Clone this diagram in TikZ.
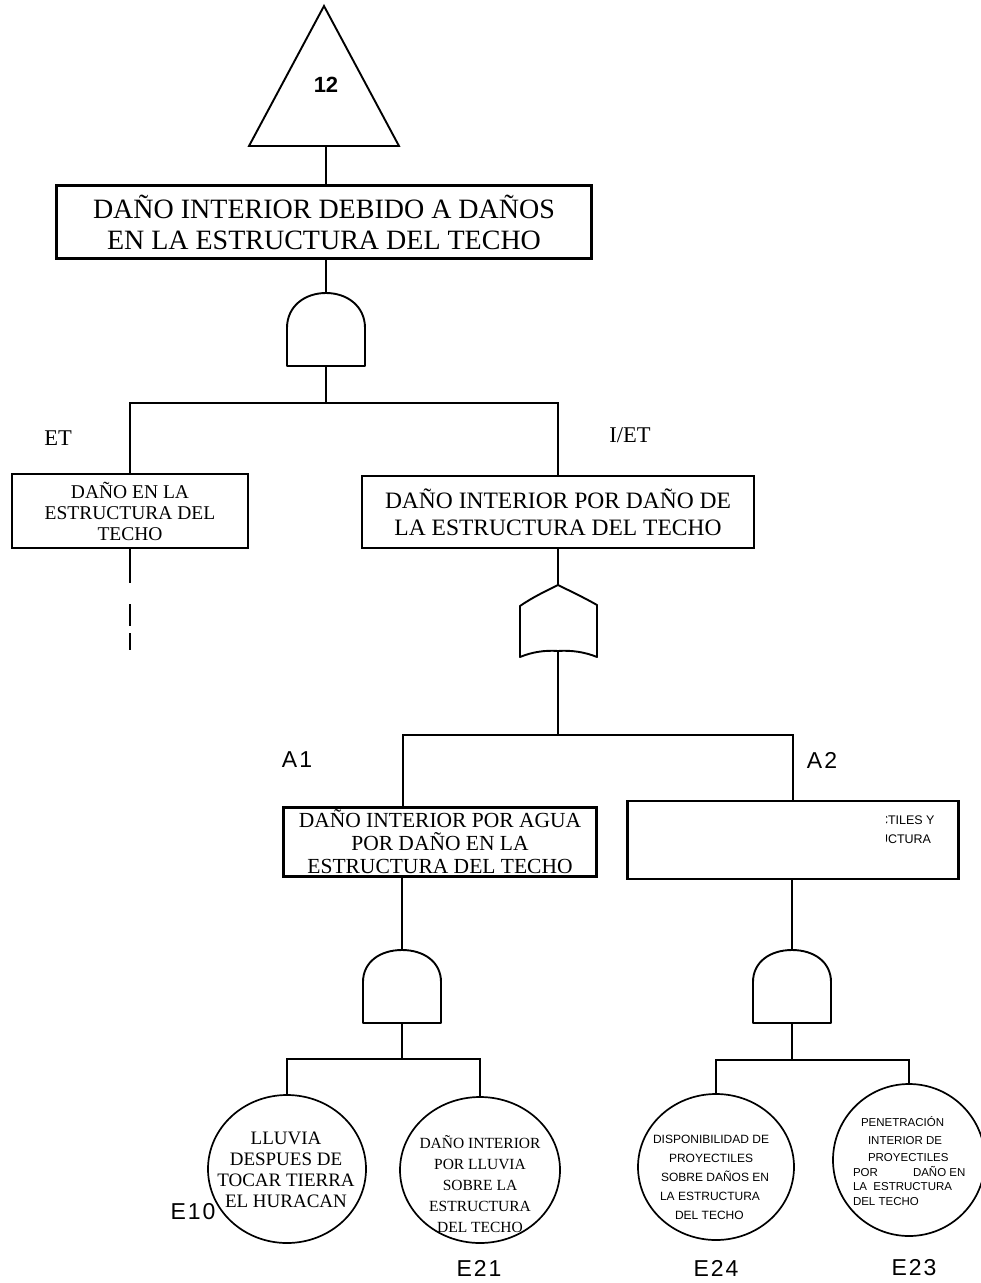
\documentclass[tikz,border=0pt]{standalone}
\usepackage{fontspec}
\usetikzlibrary{shapes.geometric}
\setmainfont{Liberation Serif}
\setsansfont{Liberation Sans}
\newcommand{\fsz}[2]{\fontsize{#1}{#2}\selectfont}
\begin{document}
\begin{tikzpicture}[x=1pt,y=-1pt,line width=2pt,
  box/.style={draw,line width=2.4pt,rectangle,inner sep=0pt,align=center},
  basic/.style={draw,ellipse,line width=1.7pt,inner sep=0pt},
  gate/.style={draw,line width=1.9pt,line join=round},
  wire/.style={line width=2.2pt},
  sflbl/.style={font=\sffamily\fsz{23}{25},inner sep=0pt},
  rmlbl/.style={font=\fsz{22.5}{25},inner sep=0pt},
  evtxt/.style={inner sep=0pt,align=center}]
\useasboundingbox (0,0) rectangle (981,1283);

% transfer triangle
\draw[gate,line join=miter] (249,146) -- (324,6) -- (399,146) -- cycle;
\node[font=\sffamily\bfseries\fsz{22}{24},inner sep=0pt] (twelve) at (326,85) {12};
\coordinate (trib) at (326,146);

% top event
\node[box,minimum width=535pt,minimum height=73pt,font=\fsz{28}{31}] (top) at (324,222)
  {DAÑO INTERIOR DEBIDO A DAÑOS\\EN LA ESTRUCTURA DEL TECHO};
\draw[wire] (trib) -- (trib |- top.north);

% AND gate under the top event
\coordinate (g1t) at (326,293);
\coordinate (g1b) at (326,366);
\draw[gate] (287,366) -- (287,328) .. controls (287,306) and (305,293) .. (326,293)
  .. controls (347,293) and (365,306) .. (365,328) -- (365,366) -- cycle;
\draw[wire] (g1t |- top.south) -- (g1t);

% first level events
\node[box,minimum width=236pt,minimum height=74pt,font=\fsz{19.5}{21}] (et) at (130,511)
  {DAÑO EN LA\\ESTRUCTURA DEL\\TECHO};
\node[box,minimum width=392pt,minimum height=72pt,font=\fsz{23.5}{27}] (iet) at (558,512)
  {DAÑO INTERIOR POR DAÑO DE\\LA ESTRUCTURA DEL TECHO};
\node[rmlbl] (etl) at (58,438) {ET};
\node[rmlbl] (ietl) at (630,435) {I/ET};
\coordinate (bus1) at (326,403);
\draw[wire] (g1b) -- (bus1);
\draw[wire] (et.north) -- (et.north |- bus1) -- (iet.north |- bus1) -- (iet.north);

% continuation of the left branch
\coordinate (etend) at (130,583);
\coordinate (d1a) at (130,604);
\coordinate (d1b) at (130,626);
\coordinate (d2a) at (130,633);
\coordinate (d2b) at (130,650);
\draw[wire] (et.south) -- (etend);
\draw[wire] (d1a) -- (d1b) (d2a) -- (d2b);

% OR gate
\coordinate (g2t) at (558,585);
\coordinate (g2b) at (558,651);
\draw[gate] (520,657) -- (520,606) .. controls (533,597) and (546,591) .. (558,585)
  .. controls (570,591) and (583,597) .. (597,605) -- (597,657)
  .. controls (585,652) and (571,650) .. (558,651)
  .. controls (545,650) and (532,652) .. (520,657) -- cycle;
\draw[wire] (iet.south) -- (g2t);

% second level events
\node[box,minimum width=313pt,minimum height=69pt,font=\fsz{21.5}{23}] (a1) at (440,842)
  {DAÑO INTERIOR POR AGUA\\POR DAÑO EN LA\\ESTRUCTURA DEL TECHO};
\node[box,minimum width=331pt,minimum height=78pt] (a2) at (793,840) {};
\begin{scope}
  \clip (886,805) rectangle (958,870);
  \node[anchor=north west,inner sep=0pt,align=left,font=\sffamily\fsz{12.5}{19}] (a2txt) at (878,815)
    {CTILES Y\\UCTURA};
\end{scope}
\node[sflbl] (a1l) at (297,760) {A\kern2pt1};
\node[sflbl] (a2l) at (822,760) {A\kern2pt2};
\coordinate (bus2) at (558,735);
\coordinate (bus2l) at (403,735);
\coordinate (bus2r) at (793,735);
\draw[wire] (g2b) -- (bus2);
\draw[wire] (bus2l |- a1.north) -- (bus2l) -- (bus2r) -- (a2.north);

% AND gates of the second level
\coordinate (g3t) at (402,950);
\coordinate (g3b) at (402,1023);
\draw[gate] (363,1023) -- (363,982) .. controls (363,962) and (380,950) .. (402,950)
  .. controls (424,950) and (441,962) .. (441,982) -- (441,1023) -- cycle;
\draw[wire] (g3t |- a1.south) -- (g3t);
\coordinate (g4t) at (792,950);
\coordinate (g4b) at (792,1023);
\draw[gate] (753,1023) -- (753,982) .. controls (753,962) and (770,950) .. (792,950)
  .. controls (814,950) and (831,962) .. (831,982) -- (831,1023) -- cycle;
\draw[wire] (g4t |- a2.south) -- (g4t);

% basic events
\node[basic,minimum width=158pt,minimum height=148pt] (e10) at (287,1169) {};
\node[basic,minimum width=160pt,minimum height=146pt] (e21) at (480,1170) {};
\node[basic,minimum width=156pt,minimum height=146pt] (e24) at (716,1167) {};
\node[basic,minimum width=152pt,minimum height=152pt] (e23) at (909,1160) {};

\node[evtxt,font=\fsz{19}{21}] (e10t) at (286,1170)
  {LLUVIA\\DESPUES DE\\TOCAR TIERRA\\EL HURACAN};
\node[evtxt,font=\fsz{15.5}{21}] (e21t) at (480,1184)
  {DAÑO INTERIOR\\POR LLUVIA\\SOBRE LA\\ESTRUCTURA\\DEL TECHO};
\node[inner sep=0pt,align=left,font=\sffamily\fsz{12}{19},anchor=west] (e24t) at (652,1177)
  {DISPONIBILIDAD DE\\\hspace*{16pt}PROYECTILES\\\hspace*{8pt}SOBRE DAÑOS EN\\\hspace*{7pt}LA ESTRUCTURA\\\hspace*{22pt}DEL TECHO};
\node[inner sep=0pt,align=left,font=\sffamily\fsz{11.5}{14.5},anchor=west] (e23t) at (852,1161)
  {\hspace*{8pt}PENETRACIÓN\\[3pt]\hspace*{15pt}INTERIOR DE\\[3pt]\hspace*{15pt}PROYECTILES\\\makebox[60pt][l]{POR}DAÑO EN\\LA\ \ ESTRUCTURA\\DEL TECHO};

\coordinate (bus3) at (402,1059);
\coordinate (bus4) at (792,1060);
\draw[wire] (g3b) -- (bus3);
\draw[wire] (e10.north) -- (e10.north |- bus3) -- (e21.north |- bus3) -- (e21.north);
\draw[wire] (g4b) -- (bus4);
\draw[wire] (e24.north) -- (e24.north |- bus4) -- (e23.north |- bus4) -- (e23.north);

% event labels
\node[sflbl] (e10l) at (193,1212) {E\kern2pt1\kern2pt0};
\node[sflbl] (e21l) at (479,1268) {E\kern2pt2\kern2pt1};
\node[sflbl] (e24l) at (716,1268) {E\kern2pt2\kern2pt4};
\node[sflbl] (e23l) at (914,1268) {E\kern2pt2\kern2pt3};
\end{tikzpicture}
\end{document}
